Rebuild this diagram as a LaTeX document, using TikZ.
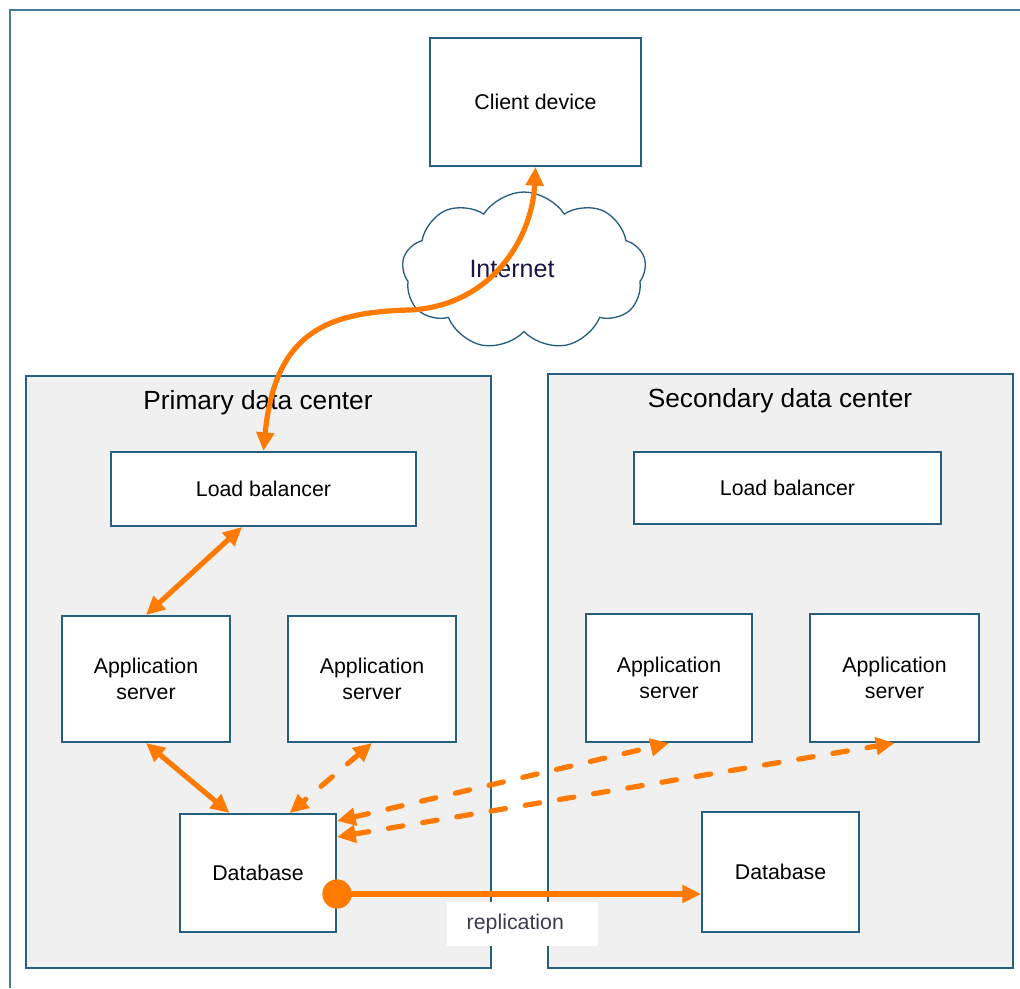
\documentclass[tikz,border=0pt]{standalone}
\usepackage{fontspec}
\setmainfont{Liberation Sans}
\usetikzlibrary{arrows.meta,shapes.symbols,calc}

\definecolor{edgeblue}{RGB}{38,96,128}
\definecolor{frameblue}{RGB}{70,125,155}
\definecolor{zonegray}{RGB}{240,240,240}
\definecolor{linkorange}{RGB}{255,122,0}

\tikzset{
	boxsize/.style 2 args={minimum width=#1*0.75pt, minimum height=#2*0.75pt},
	box/.style={draw=edgeblue, line width=1.5pt, fill=white, inner sep=0pt, align=center, font=\fontsize{16}{19}\selectfont},
	zone/.style={draw=edgeblue, line width=1.5pt, fill=zonegray, inner sep=0pt},
	zonelabel/.style={font=\fontsize{19.7}{23}\selectfont},
	link/.style={draw=linkorange, line width=3.9pt, {Triangle[length=14pt,width=13pt]}-{Triangle[length=14pt,width=13pt]}},
	dlink/.style={link, dash pattern=on 11pt off 15pt, line cap=round},
}

\begin{document}
\begin{tikzpicture}[x=0.75pt, y=-0.75pt]
		\useasboundingbox (0,0) rectangle (1020,988);
		\draw[frameblue, line width=2.2pt] (10,988) -- (10,10) -- (1020,10);
		
		% top part
		\node[box, boxsize={211}{128}] (client) at (535.5,102) {Client device};
		\node[cloud, cloud puffs=9, cloud puff arc=115, aspect=1.5, draw=edgeblue, line width=1pt, fill=white,
			boxsize={244}{158}, inner sep=0pt, font=\fontsize{18.8}{22}\selectfont, text={rgb,255:red,30;green,20;blue,70}] (inet) at (524,271) {\hspace*{-18pt}\raisebox{3pt}{Internet}};
		
		% data centers
		\node[zone, boxsize={465}{592}] (zoneA) at (258.5,672) {};
		\node[zone, boxsize={465}{594}] (zoneB) at (780.5,671) {};
		\node[zonelabel] (labelA) at (258,403) {Primary data center};
		\node[zonelabel] (labelB) at (780,401) {Secondary data center};
		
		\node[box, boxsize={305}{74}] (lbA) at (263.5,489) {Load balancer};
		\node[box, boxsize={307}{72}] (lbB) at (787.5,488) {Load balancer};
		
		\node[box, boxsize={168}{126}] (appA) at (146,679) {Application\\server};
		\node[box, boxsize={168}{126}] (appB) at (372,679) {Application\\server};
		\node[box, boxsize={166}{128}] (appC) at (669,678) {Application\\server};
		\node[box, boxsize={169}{128}] (appD) at (894.5,678) {Application\\server};
		
		\node[box, boxsize={156}{118}] (dbA) at (258,873) {Database};
		\node[box, boxsize={157}{120}] (dbB) at (780.5,872) {Database};
		
		% links
		\path[link] (lbA.north) .. controls (275,330) and (330,312) .. (410,310)
			.. controls (490,306) and (532,240) .. (client.south);
		\path[link] ($(lbA.south west)!0.43!(lbA.south east)$) -- (appA.north);
		\path[link] (appA.south) -- ($(dbA.north west)!0.32!(dbA.north east)$);
		\path[dlink] (appB.south) -- ($(dbA.north west)!0.7!(dbA.north east)$);
		\path[dlink] ($(dbA.north east)+(0,8)$) -- (appC.south);
		\path[dlink] ($(dbA.north east)+(0,24)$) -- (appD.south);
		
		% replication
		\coordinate (replA) at ($(dbA.north east)+(0,81)$);
		\path[draw=linkorange, line width=3.9pt, -{Triangle[length=14pt,width=13pt]}] (replA) -- (dbB.west |- replA);
		\fill[linkorange] (replA) circle[radius=11pt];
		\node[fill=white, boxsize={151}{44}, inner sep=0pt, font=\fontsize{16}{19}\selectfont, text={rgb,255:red,60;green,60;blue,80}] (repl) at (522,924) {\hspace*{-10pt}replication};
	\end{tikzpicture}
\end{document}
